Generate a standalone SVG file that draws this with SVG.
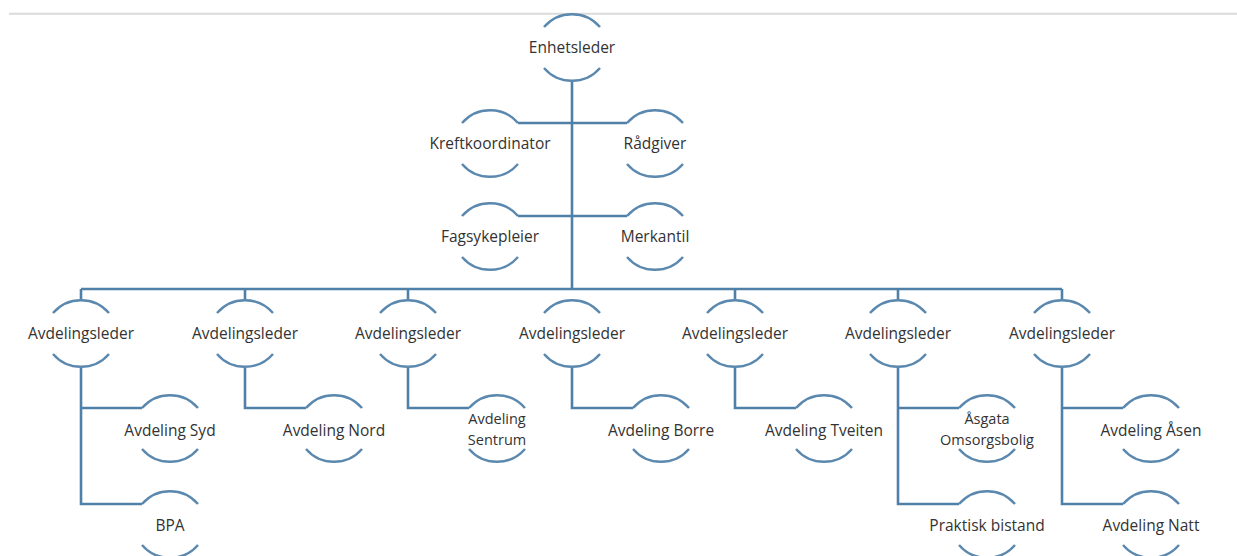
<svg xmlns="http://www.w3.org/2000/svg" width="1237" height="556" viewBox="0 0 1237 556">
<style>
  .ln{fill:none;stroke:#4f80a8;stroke-width:2.6}
  .arc{fill:none;stroke:#5b88ae;stroke-width:2.4}
  .t{font-family:"Open Sans","Liberation Sans",sans-serif;font-size:15.5px;fill:#333333;text-anchor:middle}
  .t2{font-size:14.5px}
</style>
<defs>
  <g id="ring">
    <path class="arc" d="M -28 -20 A 37 37 0 0 1 28 -20"/>
    <path class="arc" d="M -28 21 A 37 37 0 0 0 28 21"/>
  </g>
</defs>
<rect width="1237" height="556" fill="#ffffff"/>
<line x1="9" y1="13.7" x2="1237" y2="13.7" stroke="#dadada" stroke-width="2"/>

<g id="connectors">
  <path class="ln" d="M572 81 V289"/>
  <path class="ln" d="M518 123 H627"/>
  <path class="ln" d="M518 216 H627"/>
  <path class="ln" d="M81 289 H1062"/>
  <path class="ln" d="M81 289 V300 M245 289 V300 M408 289 V300 M735 289 V300 M898 289 V300 M1062 289 V300"/>
  <path class="ln" d="M81 368 V504 H142 M81 408 H142"/>
  <path class="ln" d="M245 368 V408 H306"/>
  <path class="ln" d="M408 368 V408 H469"/>
  <path class="ln" d="M572 368 V408 H633"/>
  <path class="ln" d="M735 368 V408 H796"/>
  <path class="ln" d="M898 368 V504 H959 M898 408 H959"/>
  <path class="ln" d="M1062 368 V504 H1123 M1062 408 H1123"/>
</g>

<g id="enhetsleder"><use href="#ring" x="572" y="47"/><text class="t" x="572" y="52.5">Enhetsleder</text></g>
<g id="kreftkoordinator"><use href="#ring" x="490" y="143"/><text class="t" x="490" y="148.5">Kreftkoordinator</text></g>
<g id="radgiver"><use href="#ring" x="655" y="143"/><text class="t" x="655" y="148.5">Rådgiver</text></g>
<g id="fagsykepleier"><use href="#ring" x="490" y="236"/><text class="t" x="490" y="241.5">Fagsykepleier</text></g>
<g id="merkantil"><use href="#ring" x="655" y="236"/><text class="t" x="655" y="241.5">Merkantil</text></g>

<g id="avd1"><use href="#ring" x="81" y="333"/><text class="t" x="81" y="338.5">Avdelingsleder</text></g>
<g id="avd2"><use href="#ring" x="245" y="333"/><text class="t" x="245" y="338.5">Avdelingsleder</text></g>
<g id="avd3"><use href="#ring" x="408" y="333"/><text class="t" x="408" y="338.5">Avdelingsleder</text></g>
<g id="avd4"><use href="#ring" x="572" y="333"/><text class="t" x="572" y="338.5">Avdelingsleder</text></g>
<g id="avd5"><use href="#ring" x="735" y="333"/><text class="t" x="735" y="338.5">Avdelingsleder</text></g>
<g id="avd6"><use href="#ring" x="898" y="333"/><text class="t" x="898" y="338.5">Avdelingsleder</text></g>
<g id="avd7"><use href="#ring" x="1062" y="333"/><text class="t" x="1062" y="338.5">Avdelingsleder</text></g>

<g id="syd"><use href="#ring" x="170" y="428"/><text class="t" x="170" y="435.5">Avdeling Syd</text></g>
<g id="bpa"><use href="#ring" x="170" y="524"/><text class="t" x="170" y="530.5">BPA</text></g>
<g id="nord"><use href="#ring" x="334" y="428"/><text class="t" x="334" y="435.5">Avdeling Nord</text></g>
<g id="sentrum"><use href="#ring" x="497" y="428"/><text class="t t2" x="497" y="424">Avdeling</text><text class="t t2" x="497" y="445">Sentrum</text></g>
<g id="borre"><use href="#ring" x="661" y="428"/><text class="t" x="661" y="435.5">Avdeling Borre</text></g>
<g id="tveiten"><use href="#ring" x="824" y="428"/><text class="t" x="824" y="435.5">Avdeling Tveiten</text></g>
<g id="asgata"><use href="#ring" x="987" y="428"/><text class="t t2" x="987" y="424">Åsgata</text><text class="t t2" x="987" y="445">Omsorgsbolig</text></g>
<g id="praktisk"><use href="#ring" x="987" y="524"/><text class="t" x="987" y="530.5">Praktisk bistand</text></g>
<g id="asen"><use href="#ring" x="1151" y="428"/><text class="t" x="1151" y="435.5">Avdeling Åsen</text></g>
<g id="natt"><use href="#ring" x="1151" y="524"/><text class="t" x="1151" y="530.5">Avdeling Natt</text></g>
</svg>
